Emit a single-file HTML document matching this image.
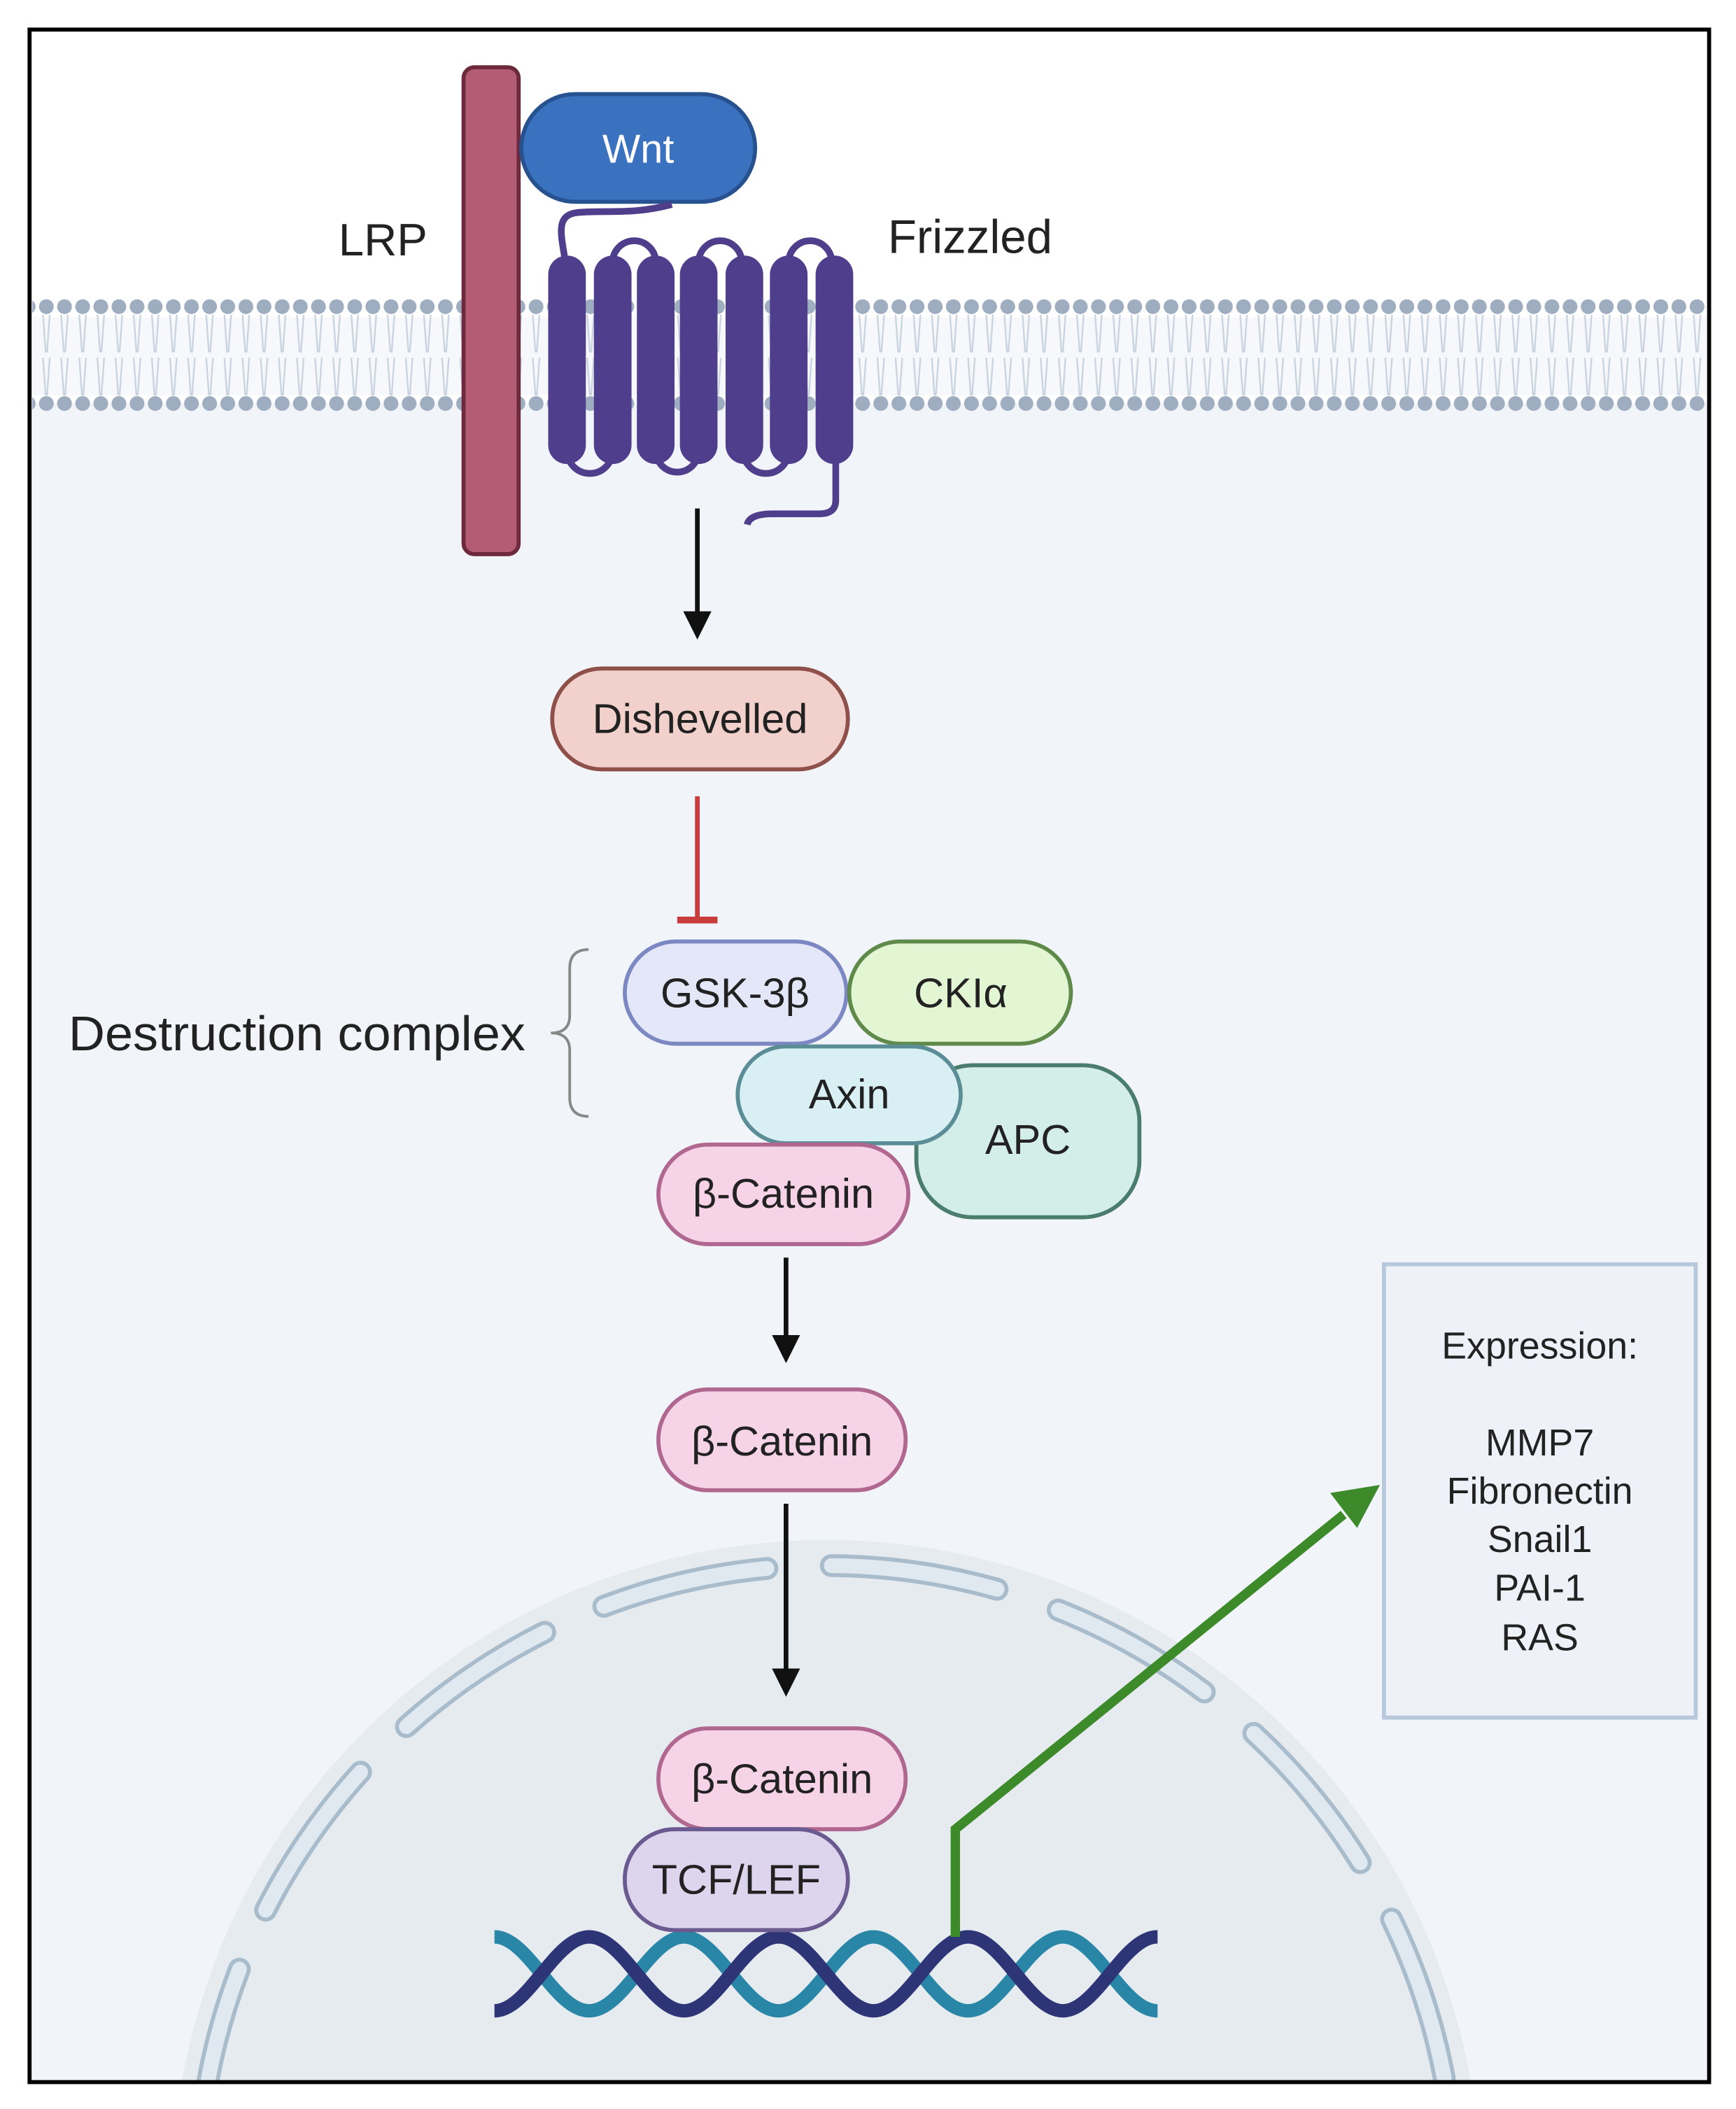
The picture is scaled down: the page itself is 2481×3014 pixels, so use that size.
<!DOCTYPE html>
<html><head><meta charset="utf-8"><style>
html,body{margin:0;padding:0;background:#fff;overflow:hidden;width:2481px;height:3014px}
svg{display:block}
text{font-family:"Liberation Sans Narrow","Liberation Sans",sans-serif;fill:#222}
</style></head><body>
<svg width="2481" height="3014" viewBox="0 0 1292 1568" preserveAspectRatio="none" xmlns="http://www.w3.org/2000/svg">
<defs>
<pattern id="dots" x="28" y="0" width="13.5" height="1568" patternUnits="userSpaceOnUse">
<line x1="4" y1="234" x2="6" y2="262" stroke="#c9d3df" stroke-width="1.2"/>
<line x1="9" y1="234" x2="7" y2="262" stroke="#c9d3df" stroke-width="1.2"/>
<line x1="4" y1="266" x2="6" y2="294" stroke="#c9d3df" stroke-width="1.2"/>
<line x1="9" y1="266" x2="7" y2="294" stroke="#c9d3df" stroke-width="1.2"/>
<circle cx="6.5" cy="228" r="5.5" fill="#9fadc1"/>
<circle cx="6.5" cy="300" r="5.5" fill="#9fadc1"/>
</pattern>
<clipPath id="fr"><rect x="22" y="22" width="1250" height="1526"/></clipPath>
<marker id="ah" markerWidth="6" markerHeight="6" refX="5" refY="3" orient="auto" markerUnits="strokeWidth"><path d="M0,0 L6,3 L0,6 z" fill="#111"/></marker>
</defs>
<rect x="0" y="0" width="1292" height="1568" fill="#fff"/>
<rect x="22" y="300" width="1250" height="1248" fill="#f1f4f9"/>
<rect x="24" y="236" width="1246" height="58" fill="#f6f8fb"/>
<rect x="24" y="215" width="1246" height="95" fill="url(#dots)"/>
<!-- nucleus -->
<g clip-path="url(#fr)">
<circle cx="615" cy="1632" r="487" fill="#e6ebf0"/>
<circle cx="615" cy="1632" r="468" fill="none" stroke="#a9bccb" stroke-width="17" stroke-dasharray="125 48" stroke-linecap="round" stroke-dashoffset="40"/>
<circle cx="615" cy="1632" r="468" fill="none" stroke="#e1e9f0" stroke-width="11" stroke-dasharray="125 48" stroke-linecap="round" stroke-dashoffset="40"/>
</g>
<rect x="22" y="22" width="1250" height="1526" fill="none" stroke="#000" stroke-width="3"/>
<!-- LRP -->
<rect x="345" y="50" width="41" height="362" rx="8" fill="#b35c74" stroke="#6d2a3c" stroke-width="3"/>
<!-- Wnt -->
<rect x="388" y="70" width="174" height="80" rx="40" fill="#3a72c0" stroke="#27528f" stroke-width="3"/>
<text x="475" y="121" font-size="30" text-anchor="middle" style="fill:#fff">Wnt</text>
<text x="285" y="190" font-size="34" text-anchor="middle">LRP</text>
<text x="722" y="188" font-size="35" text-anchor="middle">Frizzled</text>
<!-- Frizzled -->
<g fill="none" stroke="#4f3e8c" stroke-width="5">
<path d="M422,205 C420,180 410,160 430,158 C450,156 470,160 500,152"/>
<path d="M456,195 a16,16 0 0 1 32,0"/>
<path d="M520,195 a16,16 0 0 1 32,0"/>
<path d="M587,195 a16,16 0 0 1 32,0"/>
<path d="M422,335 a17,17 0 0 0 34,0"/>
<path d="M488,335 a16,16 0 0 0 32,0"/>
<path d="M553,335 a17,17 0 0 0 34,0"/>
<path d="M622,335 L622,372 Q622,382 610,382 L575,382 Q558,382 556,390"/>
</g>
<g fill="#4f3e8c">
<rect x="408" y="190" width="28" height="155" rx="14"/>
<rect x="442" y="190" width="28" height="155" rx="14"/>
<rect x="474" y="190" width="28" height="155" rx="14"/>
<rect x="506" y="190" width="28" height="155" rx="14"/>
<rect x="540" y="190" width="28" height="155" rx="14"/>
<rect x="573" y="190" width="28" height="155" rx="14"/>
<rect x="607" y="190" width="28" height="155" rx="14"/>
</g>
<!-- arrows -->
<line x1="519" y1="378" x2="519" y2="472" stroke="#111" stroke-width="3.5" marker-end="url(#ah)"/>
<rect x="411" y="497" width="220" height="75" rx="37" fill="#f2d1cc" stroke="#8e5048" stroke-width="3"/>
<text x="521" y="545" font-size="31" text-anchor="middle">Dishevelled</text>
<line x1="519" y1="592" x2="519" y2="684" stroke="#c83c3c" stroke-width="3.5"/>
<line x1="504" y1="684" x2="534" y2="684" stroke="#c83c3c" stroke-width="5"/>
<!-- destruction complex -->
<text x="221" y="781" font-size="36" text-anchor="middle" textLength="340" lengthAdjust="spacingAndGlyphs">Destruction complex</text>
<path d="M438,706 Q424,706 424,720 L424,755 Q424,768 410,768 Q424,768 424,781 L424,816 Q424,830 438,830" fill="none" stroke="#888" stroke-width="2"/>
<rect x="682" y="792" width="166" height="113" rx="42" fill="#d3eee8" stroke="#4a7d6c" stroke-width="3"/>
<text x="765" y="858" font-size="31" text-anchor="middle">APC</text>
<rect x="465" y="700" width="165" height="76" rx="38" fill="#e4e7f8" stroke="#7b88c2" stroke-width="3"/>
<text x="547" y="749" font-size="31" text-anchor="middle">GSK-3β</text>
<rect x="632" y="700" width="165" height="76" rx="38" fill="#e2f6d4" stroke="#5f8a4a" stroke-width="3"/>
<text x="715" y="749" font-size="31" text-anchor="middle">CKIα</text>
<rect x="549" y="778" width="166" height="72" rx="36" fill="#d8f0f3" stroke="#5a8d96" stroke-width="3"/>
<text x="632" y="824" font-size="31" text-anchor="middle">Axin</text>
<rect x="490" y="851" width="186" height="74" rx="37" fill="#f6d3e6" stroke="#b06890" stroke-width="3"/>
<text x="583" y="898" font-size="31" text-anchor="middle">β-Catenin</text>
<line x1="585" y1="935" x2="585" y2="1010" stroke="#111" stroke-width="3.5" marker-end="url(#ah)"/>
<rect x="490" y="1033" width="184" height="75" rx="37" fill="#f6d3e6" stroke="#b06890" stroke-width="3"/>
<text x="582" y="1082" font-size="31" text-anchor="middle">β-Catenin</text>
<line x1="585" y1="1118" x2="585" y2="1258" stroke="#111" stroke-width="3.5" marker-end="url(#ah)"/>
<!-- DNA -->
<g fill="none" stroke-width="10">
<path stroke="#2a86a6" d="M368,1440 C393,1440 413,1495 438.5,1495 C464,1495 484,1440 509,1440 C534,1440 554,1495 579.5,1495 C605,1495 625,1440 650,1440 C675,1440 695,1495 720.5,1495 C746,1495 766,1440 791,1440 C816,1440 836,1495 861.5,1495"/>
<path stroke="#2e3577" d="M368,1495 C393,1495 413,1440 438.5,1440 C464,1440 484,1495 509,1495 C534,1495 554,1440 579.5,1440 C605,1440 625,1495 650,1495 C675,1495 695,1440 720.5,1440 C746,1440 766,1495 791,1495 C816,1495 836,1440 861.5,1440"/>
</g>
<rect x="490" y="1285" width="184" height="75" rx="37" fill="#f6d3e6" stroke="#b06890" stroke-width="3"/>
<text x="582" y="1333" font-size="31" text-anchor="middle">β-Catenin</text>
<rect x="465" y="1360" width="166" height="75" rx="37" fill="#ddd5ee" stroke="#6a5a90" stroke-width="3"/>
<text x="548" y="1408" font-size="31" text-anchor="middle">TCF/LEF</text>
<!-- green arrow -->
<path d="M711,1440 L711,1360 L1000,1126" fill="none" stroke="#3d8a2a" stroke-width="7"/>
<path d="M1027,1104 L990,1110 L1010,1136 z" fill="#3d8a2a"/>
<!-- expression box -->
<rect x="1030" y="940" width="232" height="337" fill="#eef2f8" stroke="#b8c8dc" stroke-width="3"/>
<g font-size="28" text-anchor="middle" style="font-family:'Liberation Sans',sans-serif">
<text x="1146" y="1010">Expression:</text>
<text x="1146" y="1082">MMP7</text>
<text x="1146" y="1118">Fibronectin</text>
<text x="1146" y="1154">Snail1</text>
<text x="1146" y="1190">PAI-1</text>
<text x="1146" y="1227">RAS</text>
</g>
</svg>
</body></html>
